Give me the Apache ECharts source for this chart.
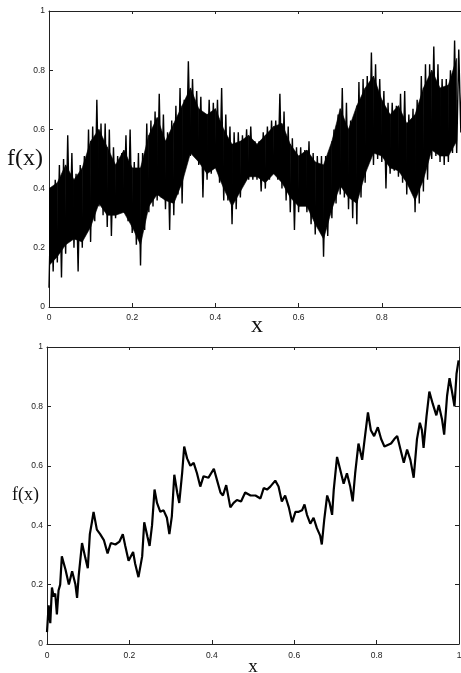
<!DOCTYPE html>
<html>
<head>
<meta charset="utf-8">
<script src="https://cdn.jsdelivr.net/npm/echarts@6/dist/echarts.min.js"></script>
<style>
html,body{margin:0;padding:0;background:#fff;}
#chart{width:461px;height:673px;}
</style>
</head>
<body>
<div id="chart"></div>
<script>
// ---- Top panel: rough function, spike tops and bottoms read every 0.01 in x ----
const topStep = 0.01;
const topUpper = [0.40,0.43,0.48,0.50,0.58,0.52,0.45,0.48,0.51,0.60,
                  0.61,0.70,0.62,0.62,0.60,0.54,0.51,0.52,0.58,0.60,
                  0.49,0.52,0.52,0.62,0.63,0.66,0.72,0.65,0.59,0.63,
                  0.68,0.74,0.70,0.83,0.77,0.73,0.71,0.64,0.70,0.69,
                  0.70,0.74,0.65,0.61,0.59,0.59,0.58,0.60,0.61,0.56,
                  0.56,0.59,0.61,0.63,0.63,0.72,0.66,0.61,0.57,0.54,
                  0.54,0.53,0.56,0.52,0.51,0.51,0.51,0.53,0.60,0.65,
                  0.74,0.69,0.63,0.65,0.76,0.77,0.78,0.86,0.82,0.77,
                  0.73,0.69,0.69,0.68,0.72,0.73,0.65,0.67,0.70,0.78,
                  0.82,0.82,0.88,0.82,0.77,0.77,0.80,0.90,0.87,0.92];
const topLower = [0.065,0.12,0.15,0.10,0.18,0.23,0.20,0.12,0.20,0.25,
                  0.22,0.29,0.34,0.31,0.27,0.24,0.30,0.33,0.32,0.29,
                  0.25,0.21,0.14,0.26,0.32,0.34,0.36,0.37,0.33,0.26,
                  0.31,0.38,0.35,0.48,0.51,0.52,0.48,0.37,0.43,0.45,
                  0.47,0.42,0.36,0.36,0.28,0.33,0.37,0.43,0.43,0.43,
                  0.43,0.39,0.40,0.43,0.45,0.43,0.40,0.36,0.32,0.26,
                  0.32,0.35,0.32,0.28,0.245,0.27,0.17,0.24,0.30,0.35,
                  0.38,0.37,0.33,0.30,0.28,0.37,0.42,0.49,0.48,0.50,
                  0.49,0.40,0.45,0.46,0.44,0.42,0.38,0.40,0.32,0.35,
                  0.39,0.43,0.50,0.51,0.49,0.48,0.49,0.52,0.52,0.59];
// solid dark core of the top band, read every 0.02 in x
const coreStep = 0.02;
const coreUpper = [0.40,0.42,0.48,0.43,0.47,0.56,0.60,0.54,0.48,0.53,
                   0.47,0.47,0.58,0.64,0.56,0.62,0.68,0.74,0.67,0.65,
                   0.67,0.60,0.55,0.56,0.58,0.55,0.58,0.61,0.62,0.55,
                   0.51,0.53,0.49,0.48,0.56,0.67,0.60,0.68,0.74,0.78,
                   0.70,0.65,0.68,0.62,0.65,0.74,0.80,0.74,0.75,0.84];
const coreLower = [0.14,0.17,0.21,0.23,0.22,0.27,0.35,0.31,0.31,0.32,
                   0.27,0.21,0.34,0.38,0.36,0.35,0.42,0.52,0.49,0.45,
                   0.47,0.40,0.34,0.39,0.44,0.44,0.42,0.45,0.42,0.37,
                   0.34,0.34,0.28,0.23,0.33,0.41,0.37,0.35,0.45,0.52,
                   0.51,0.47,0.46,0.42,0.36,0.43,0.53,0.51,0.51,0.56];

// ---- Bottom panel: smoother function, traced points ----
const botX = [0,0.004,0.008,0.012,0.016,0.020,0.024,0.028,0.032,0.036,0.045,0.053,0.061,0.069,0.073,0.077,0.085,0.093,0.099,0.104,
              0.109,0.113,0.121,0.129,0.138,0.147,0.155,0.166,0.176,0.184,0.190,0.198,0.209,0.214,0.222,0.231,0.236,0.244,0.249,0.255,
              0.261,0.267,0.275,0.283,0.291,0.297,0.303,0.309,0.316,0.321,0.328,0.333,0.340,0.348,0.356,0.364,0.372,0.380,0.392,0.405,
              0.413,0.421,0.427,0.435,0.445,0.453,0.461,0.471,0.481,0.494,0.506,0.518,0.526,0.534,0.542,0.554,0.562,0.570,0.578,0.587,
              0.595,0.603,0.611,0.619,0.625,0.631,0.639,0.647,0.655,0.663,0.667,0.673,0.680,0.686,0.692,0.696,0.704,0.712,0.720,0.728,
              0.736,0.742,0.748,0.756,0.765,0.771,0.779,0.786,0.794,0.803,0.811,0.819,0.827,0.835,0.843,0.850,0.858,0.866,0.874,0.882,
              0.890,0.898,0.905,0.910,0.914,0.921,0.928,0.936,0.945,0.951,0.959,0.964,0.971,0.977,0.983,0.989,0.994,0.999];
const botY = [0.04,0.13,0.07,0.19,0.16,0.17,0.10,0.18,0.20,0.295,0.25,0.20,0.245,0.20,0.155,0.23,0.34,0.29,0.255,0.37,
              0.41,0.445,0.385,0.37,0.35,0.305,0.34,0.335,0.345,0.37,0.33,0.28,0.31,0.27,0.225,0.295,0.41,0.36,0.33,0.40,
              0.52,0.475,0.445,0.45,0.425,0.37,0.43,0.57,0.51,0.475,0.575,0.665,0.625,0.60,0.61,0.575,0.53,0.565,0.56,0.59,
              0.55,0.51,0.50,0.535,0.46,0.475,0.485,0.48,0.51,0.50,0.50,0.49,0.525,0.52,0.53,0.55,0.53,0.48,0.50,0.46,
              0.41,0.445,0.445,0.45,0.47,0.435,0.405,0.425,0.39,0.365,0.335,0.42,0.50,0.475,0.435,0.52,0.63,0.585,0.54,0.575,
              0.53,0.48,0.575,0.675,0.62,0.69,0.78,0.72,0.70,0.73,0.69,0.665,0.67,0.675,0.69,0.70,0.655,0.61,0.655,0.62,
              0.56,0.69,0.745,0.72,0.66,0.765,0.85,0.81,0.77,0.805,0.755,0.705,0.835,0.895,0.85,0.80,0.91,0.955];

// ---- Axis ticks ----
const tickValues = [0, 0.2, 0.4, 0.6, 0.8, 1];
const tickLabels = ['0', '0.2', '0.4', '0.6', '0.8', '1'];
const yTitle = 'f(x)';
const xTitle = 'x';

// zig-zag between spike bottoms and tops
const topData = [];
for (let i = 0; i < topUpper.length; i++) {
  const x = i * topStep;
  topData.push([x, topLower[i]]);
  topData.push([x + topStep / 2, topUpper[i]]);
}
const coreData = coreUpper.map((v, i) => [i * coreStep, coreLower[i], v]);
const botData = botX.map((x, i) => [x, botY[i]]);

function fmt(v) {
  const k = tickValues.findIndex(t => Math.abs(t - v) < 1e-9);
  return k >= 0 ? tickLabels[k] : '';
}

const labelStyle = { fontFamily: 'Liberation Sans, Arial, sans-serif', fontSize: 8.5, color: '#222' };

function mainX(gi, margin, nameGap, nameSize) {
  return {
    type: 'value', gridIndex: gi, position: 'bottom', min: 0, max: 1, interval: 0.2,
    axisLine: { show: true, onZero: false, lineStyle: { color: '#222', width: 1 } },
    axisTick: { show: true, inside: true, length: 4, lineStyle: { color: '#222' } },
    axisLabel: Object.assign({ show: true, margin: margin, formatter: fmt }, labelStyle),
    splitLine: { show: false },
    name: xTitle, nameLocation: 'middle', nameGap: nameGap, nameMoveOverlap: false,
    nameTextStyle: { fontFamily: 'Liberation Serif, Times New Roman, serif', fontSize: nameSize, color: '#111' }
  };
}
function sideX(gi) {
  return {
    type: 'value', gridIndex: gi, position: 'top', min: 0, max: 1, interval: 0.2,
    axisLine: { show: true, onZero: false, lineStyle: { color: '#222', width: 1 } },
    axisTick: { show: true, inside: true, length: 3, lineStyle: { color: '#222' } },
    axisLabel: { show: false }, splitLine: { show: false }
  };
}
function mainY(gi, margin, nameGap, nameSize) {
  return {
    type: 'value', gridIndex: gi, position: 'left', min: 0, max: 1, interval: 0.2,
    axisLine: { show: true, onZero: false, lineStyle: { color: '#222', width: 1 } },
    axisTick: { show: true, inside: true, length: 4, lineStyle: { color: '#222' } },
    axisLabel: Object.assign({ show: true, margin: margin, formatter: fmt }, labelStyle),
    splitLine: { show: false },
    name: yTitle, nameLocation: 'middle', nameGap: nameGap, nameRotate: 0, nameMoveOverlap: false,
    nameTextStyle: { fontFamily: 'Liberation Serif, Times New Roman, serif', fontSize: nameSize, color: '#111' }
  };
}
function sideY(gi) {
  return {
    type: 'value', gridIndex: gi, position: 'right', min: 0, max: 1, interval: 0.2,
    axisLine: { show: true, onZero: false, lineStyle: { color: '#222', width: 1 } },
    axisTick: { show: true, inside: true, length: 4, lineStyle: { color: '#222' } },
    axisLabel: { show: false }, splitLine: { show: false }
  };
}

function renderCore(params, api) {
  const i = params.dataIndex;
  if (i >= coreData.length - 1) return null;
  const a = coreData[i], b = coreData[i + 1];
  const pts = [
    api.coord([a[0], a[2]]), api.coord([b[0], b[2]]),
    api.coord([b[0], b[1]]), api.coord([a[0], a[1]])
  ];
  return { type: 'polygon', shape: { points: pts }, style: { fill: '#000', stroke: '#000', lineWidth: 0.6 } };
}

const chart = echarts.init(document.getElementById('chart'), null, { renderer: 'canvas' });
chart.setOption({
  animation: false,
  backgroundColor: '#fff',
  grid: [
    { left: 49, top: 11, width: 416, height: 296, containLabel: false, outerBoundsMode: 'none' },
    { left: 47, top: 347, width: 412, height: 297, containLabel: false, outerBoundsMode: 'none' }
  ],
  xAxis: [mainX(0, 6, 7, 24), sideX(0), mainX(1, 7, 14, 19), sideX(1)],
  yAxis: [mainY(0, 4, 6, 24), sideY(0), mainY(1, 4, 8, 18), sideY(1)],
  series: [
    { type: 'custom', xAxisIndex: 0, yAxisIndex: 0, data: coreData, renderItem: renderCore,
      encode: { x: 0, y: [1, 2] }, silent: true, clip: true },
    { type: 'line', xAxisIndex: 0, yAxisIndex: 0, data: topData, showSymbol: false, symbol: 'none',
      lineStyle: { color: '#000', width: 1.4 }, silent: true },
    { type: 'line', xAxisIndex: 2, yAxisIndex: 2, data: botData, showSymbol: false, symbol: 'none',
      lineStyle: { color: '#000', width: 2.2 }, silent: true }
  ]
});
</script>
</body>
</html>
